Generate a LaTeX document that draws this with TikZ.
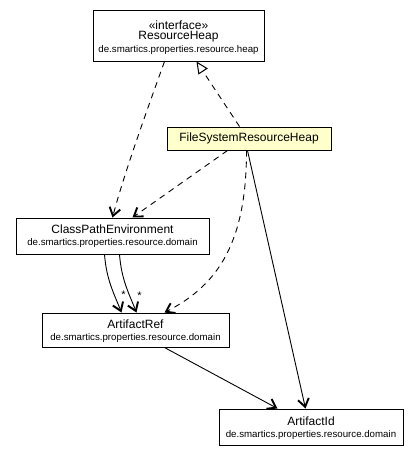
\documentclass[tikz,border=0pt]{standalone}
\usepackage{fontspec}
\setmainfont{Liberation Sans}
\usetikzlibrary{arrows.meta}
\definecolor{noteyellow}{HTML}{FFFFCC}
\begin{document}
\begin{tikzpicture}[x=1pt,y=-1pt,
  box/.style={draw, line width=1pt, fill=white, inner sep=0pt},
  nm/.style={font=\fontsize{12}{14}\selectfont, inner sep=0pt},
  pk/.style={font=\fontsize{9.7}{11}\selectfont, inner sep=0pt},
  lbl/.style={font=\fontsize{11}{12}\selectfont, inner sep=0pt},
  vtip/.style={-{Straight Barb[length=8pt,width=11pt,line width=1.9pt]}},
  dep/.style={draw, line width=0.9pt, dash pattern=on 6pt off 5pt, vtip},
  nav/.style={draw, line width=0.9pt, vtip},
  real/.style={draw, line width=0.9pt, dash pattern=on 6pt off 5pt,
    -{Triangle[open, length=12pt, width=11pt, fill=white, line width=1pt]}}]
\useasboundingbox (0,0) rectangle (419,456);

% boxes
\node[box, minimum width=171pt, minimum height=51pt] (rh) at (178.5,35.5) {};
\node[nm] (rhs) at (178.5,25) {«interface»};
\node[nm] (rhn) at (178.5,37) {ResourceHeap};
\node[pk] (rhp) at (178.5,49.5) {de.smartics.properties.resource.heap};

\node[box, fill=noteyellow, minimum width=164pt, minimum height=23pt] (fs) at (249,138.5) {};
\node[nm] (fsn) at (249,138.5) {FileSystemResourceHeap};

\node[box, minimum width=193pt, minimum height=36pt] (cp) at (112.5,236) {};
\node[nm] (cpn) at (112.5,229) {ClassPathEnvironment};
\node[pk] (cpp) at (112.5,242.5) {de.smartics.properties.resource.domain};

\node[box, minimum width=187pt, minimum height=34pt] (ar) at (135.5,330) {};
\node[nm] (arn) at (135.5,324) {ArtifactRef};
\node[pk] (arp) at (135.5,338) {de.smartics.properties.resource.domain};

\node[box, minimum width=184pt, minimum height=36pt] (ai) at (311,427) {};
\node[nm] (ain) at (311,421) {ArtifactId};
\node[pk] (aip) at (311,434.5) {de.smartics.properties.resource.domain};

% connectors
\draw[real] ([xshift=73pt]fs.north west) -- ([xshift=104pt]rh.south west);
\draw[dep] ([xshift=72pt]rh.south west) .. controls +(-18,50) and +(12,-45) .. ([xshift=97pt]cp.north west);
\draw[dep] ([xshift=61pt]fs.south west) -- ([xshift=117pt]cp.north west);
\draw[dep] ([xshift=80pt]fs.south west) .. controls +(0,90) and +(55,-28) .. ([xshift=123pt]ar.north west);
\draw[nav] ([xshift=81pt]fs.south west) -- ([xshift=87pt]ai.north west);
\draw[nav] ([xshift=89pt]cp.south west) .. controls +(2,25) and +(-8,-20) .. ([xshift=80pt]ar.north west);
\draw[nav] ([xshift=104pt]cp.south west) .. controls +(2,25) and +(-8,-20) .. ([xshift=95pt]ar.north west);
\node[lbl] (s1) at (123.5,295) {*};
\node[lbl] (s2) at (139.5,295.5) {*};
\draw[nav] ([xshift=123pt]ar.south west) -- ([xshift=59pt]ai.north west);
\end{tikzpicture}
\end{document}
